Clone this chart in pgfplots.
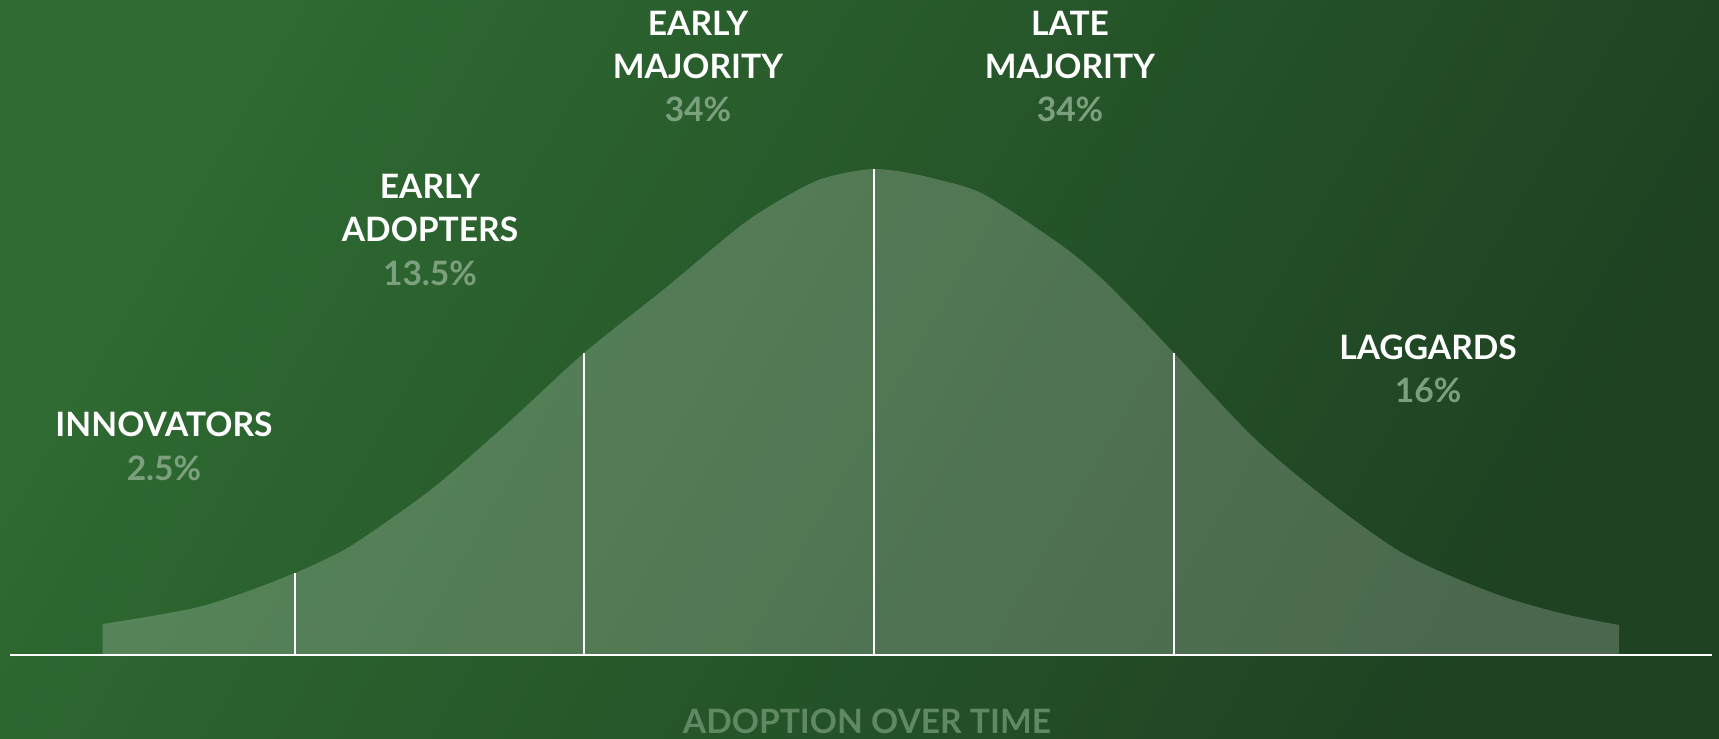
\documentclass[border=0pt]{standalone}
\usepackage{pgfplots}
\pgfplotsset{compat=1.18}
\usepackage{fontspec}
\setmainfont{Lato}
\definecolor{bgA}{RGB}{46,106,49}
\definecolor{bgB}{RGB}{30,66,34}
\definecolor{pct}{RGB}{124,160,126}
\definecolor{ttl}{RGB}{96,136,99}
\begin{document}
\begin{tikzpicture}
\begin{axis}[x=0.25pt, y=0.25pt, xmin=0, xmax=1719, ymin=-83, ymax=655,
  scale only axis, hide axis, clip=false]
\path[shading=axis, top color=bgA, bottom color=bgB, shading angle=60]
  (axis cs:0,-83) rectangle (axis cs:1719,655);
\coordinate (BL) at (axis cs:0,-83);
\coordinate (TR) at (axis cs:1719,655);
% bell curve (x, height above baseline)
\addplot[draw=none, fill=white, fill opacity=0.2, smooth, tension=0.5] coordinates {
(102.7,31) (190,46) (243,62) (295,82) (326,96) (357,113) (433,167) (510,234) (584,302)
(663,365) (739,428) (780,455) (816,474) (845,482) (874,486)
(903,483) (940,475) (985,460) (1061,410) (1100,378) (1138,340) (1174,302) (1253,218) (1329,154)
(1406,100) (1493,62) (1560,42) (1619,30)
} \closedcycle;
% dividers
\addplot[white, line width=0.5pt] coordinates {(295,0) (295,82)};
\addplot[white, line width=0.5pt] coordinates {(584,0) (584,302)};
\addplot[white, line width=0.5pt] coordinates {(874,0) (874,486)};
\addplot[white, line width=0.5pt] coordinates {(1174,0) (1174,302)};
% baseline
\addplot[white, line width=0.6pt] coordinates {(10,0) (1712,0)};
% labels
\tikzset{lbl/.style={font=\bfseries\fontsize{8.4}{10}\selectfont, anchor=base, inner sep=0pt}}
\node[lbl,text=white] at (axis cs:164,218.5) {INNOVATORS};
\node[lbl,text=pct] at (axis cs:164,174.5) {2.5\%};
\node[lbl,text=white] at (axis cs:430,456.5) {EARLY};
\node[lbl,text=white] at (axis cs:430,413.5) {ADOPTERS};
\node[lbl,text=pct] at (axis cs:430,369.5) {13.5\%};
\node[lbl,text=white] at (axis cs:698,619.5) {EARLY};
\node[lbl,text=white] at (axis cs:698,576.5) {MAJORITY};
\node[lbl,text=pct] at (axis cs:698,533.5) {34\%};
\node[lbl,text=white] at (axis cs:1070,619.5) {LATE};
\node[lbl,text=white] at (axis cs:1070,576.5) {MAJORITY};
\node[lbl,text=pct] at (axis cs:1070,533.5) {34\%};
\node[lbl,text=white] at (axis cs:1428,295.5) {LAGGARDS};
\node[lbl,text=pct] at (axis cs:1428,252.5) {16\%};
\node[lbl,text=ttl] at (axis cs:867,-78) {ADOPTION OVER TIME};
\end{axis}
\pgfresetboundingbox
\useasboundingbox (BL) rectangle (TR);
\end{tikzpicture}
\end{document}
